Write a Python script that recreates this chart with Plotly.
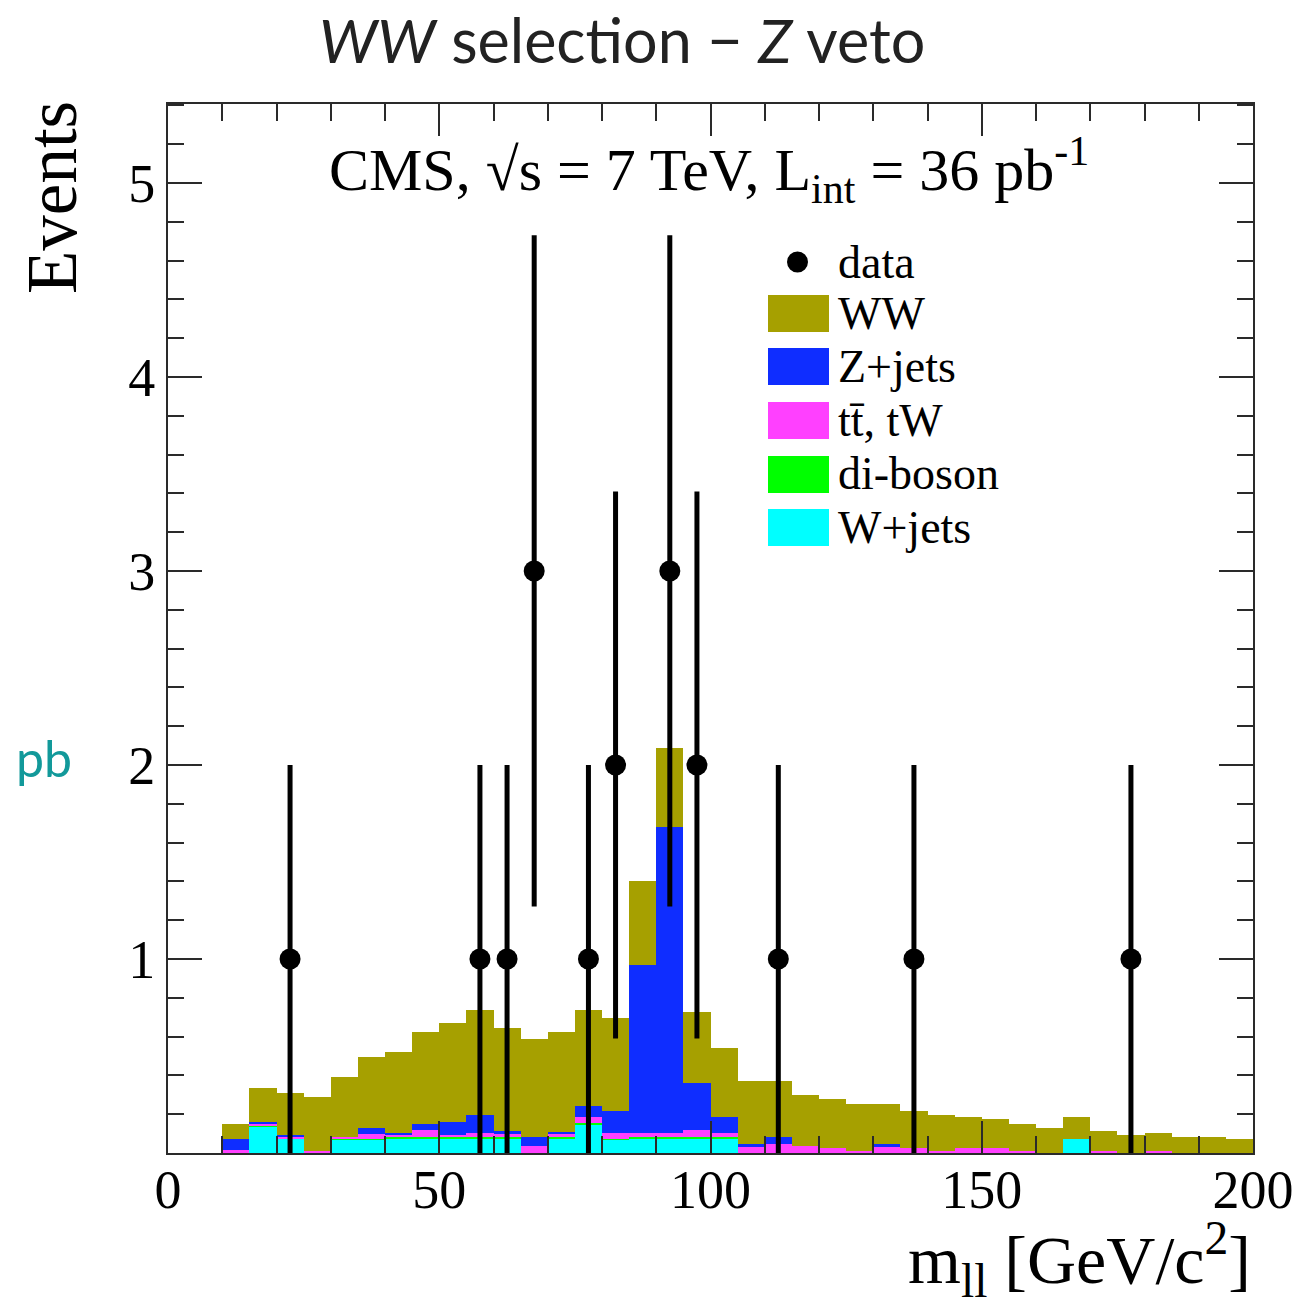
import plotly.graph_objects as go

# ---- binning: 5 GeV bins from 10 to 200 GeV/c^2 ----
bin_lo = list(range(10, 200, 5))
bin_centers = [b + 2.5 for b in bin_lo]

# ---- stacked background expectations (events per bin) ----
wjets = [0.000, 0.135, 0.074, 0.000, 0.070, 0.070, 0.077, 0.077, 0.077, 0.077,
         0.077, 0.000, 0.077, 0.142, 0.070, 0.077, 0.077, 0.077, 0.077, 0.000,
         0.000, 0.000, 0.000, 0.000, 0.000, 0.000, 0.000, 0.000, 0.000, 0.000,
         0.000, 0.071, 0.000, 0.000, 0.000, 0.000, 0.000, 0.000]
diboson = [0.000, 0.004, 0.003, 0.000, 0.003, 0.003, 0.003, 0.003, 0.003, 0.003,
           0.003, 0.000, 0.003, 0.011, 0.003, 0.003, 0.003, 0.003, 0.003, 0.000,
           0.000, 0.000, 0.000, 0.000, 0.000, 0.000, 0.000, 0.000, 0.000, 0.000,
           0.000, 0.000, 0.000, 0.000, 0.000, 0.000, 0.000, 0.000]
ttbar_tw = [0.015, 0.015, 0.008, 0.012, 0.011, 0.023, 0.016, 0.039, 0.013, 0.021,
            0.020, 0.036, 0.016, 0.031, 0.032, 0.025, 0.022, 0.039, 0.025, 0.036,
            0.046, 0.036, 0.024, 0.012, 0.036, 0.024, 0.012, 0.024, 0.024, 0.008,
            0.000, 0.000, 0.008, 0.000, 0.008, 0.000, 0.000, 0.000]
zjets = [0.056, 0.008, 0.008, 0.000, 0.000, 0.031, 0.009, 0.030, 0.068, 0.095,
         0.015, 0.045, 0.014, 0.058, 0.113, 0.864, 1.580, 0.240, 0.079, 0.010,
         0.035, 0.000, 0.000, 0.000, 0.010, 0.000, 0.000, 0.000, 0.000, 0.000,
         0.000, 0.000, 0.000, 0.000, 0.000, 0.000, 0.000, 0.000]
ww = [0.079, 0.172, 0.218, 0.275, 0.306, 0.366, 0.414, 0.473, 0.508, 0.541,
      0.531, 0.507, 0.512, 0.495, 0.476, 0.435, 0.404, 0.366, 0.356, 0.325,
      0.290, 0.263, 0.253, 0.241, 0.207, 0.194, 0.182, 0.160, 0.150, 0.141,
      0.127, 0.113, 0.107, 0.093, 0.097, 0.081, 0.081, 0.071]

# ---- observed data ----
data_x = [22.5, 57.5, 62.5, 67.5, 77.5, 82.5, 92.5, 97.5, 112.5, 137.5, 177.5]
data_n = [1, 1, 1, 3, 1, 2, 3, 2, 1, 1, 1]
data_err = [1.0, 1.0, 1.0, 1.73, 1.0, 1.41, 1.73, 1.41, 1.0, 1.0, 1.0]

x_ticks = [0, 50, 100, 150, 200]
y_ticks = [1, 2, 3, 4, 5]

# ---- styling ----
C_WW = "#a6a000"
C_Z = "#0f2dff"
C_TT = "#ff40ff"
C_VV = "#00ff00"
C_W = "#00ffff"
SERIF = "Liberation Serif, Times New Roman, serif"
SANS = "Lato, Open Sans, sans-serif"
AXIS_C = "#2a2a2a"

W, H = 1311, 1306
ML, MR, MT, MB = 168, 58, 104, 153
PW, PH = W - ML - MR, H - MT - MB


def px(xp):
    return (xp - ML) / PW


def py(yp):
    return (H - MB - yp) / PH


fig = go.Figure()

stack = [
    ("W+jets", wjets, C_W),
    ("di-boson", diboson, C_VV),
    ("tt\u0304, tW", ttbar_tw, C_TT),
    ("Z+jets", zjets, C_Z),
    ("WW", ww, C_WW),
]
for name, vals, col in stack:
    fig.add_trace(go.Bar(
        x=bin_centers, y=vals, width=5, name=name,
        marker=dict(color=col, line=dict(width=0)),
        showlegend=False, hoverinfo="skip",
    ))

fig.add_trace(go.Scatter(
    x=data_x, y=data_n, mode="markers", name="data",
    marker=dict(color="black", size=21, symbol="circle"),
    error_y=dict(type="data", array=data_err, visible=True,
                 color="black", thickness=5, width=0),
    showlegend=False, hoverinfo="skip",
))

axis_common = dict(
    showline=True, linecolor=AXIS_C, linewidth=2, mirror="allticks",
    ticks="inside", tickcolor=AXIS_C, tickwidth=2,
    showgrid=False, zeroline=False,
    tickfont=dict(family=SERIF, size=54, color="black"),
    layer="above traces",
)

fig.update_xaxes(
    range=[0, 200], tickvals=x_ticks, ticklen=32, ticklabelstandoff=-12,
    minor=dict(dtick=10, ticklen=17, ticks="inside", tickcolor=AXIS_C, tickwidth=2),
    **axis_common,
)
fig.update_yaxes(
    range=[0, 5.407], tickvals=y_ticks, ticklen=34,
    minor=dict(dtick=0.2, ticklen=16, ticks="inside", tickcolor=AXIS_C, tickwidth=2),
    **axis_common,
)

annotations = [
    dict(text="<i>WW</i> selection \u2212 <i>Z</i> veto", x=px(622), y=py(40),
         font=dict(family=SANS, size=61, color="#222222")),
    dict(text="CMS, \u221As = 7 TeV, L<sub>int</sub> = 36 pb<sup>-1</sup>",
         x=px(709), y=py(170), font=dict(family=SERIF, size=60, color="black")),
    dict(text="Events", x=px(52), y=py(198), textangle=-90,
         font=dict(family=SERIF, size=71, color="black")),
    dict(text="pb", x=px(44), y=py(758),
         font=dict(family=SANS, size=50, color="#12999a")),
    dict(text="m<sub>ll</sub> [GeV/c<sup>2</sup>]", x=1.0, y=py(1260),
         xanchor="right",
         font=dict(family=SERIF, size=68, color="black")),
]

# ---- legend box built from shapes and labels ----
legend_rows = [
    ("data", None, 262),
    ("WW", C_WW, 313),
    ("Z+jets", C_Z, 366),
    ("tt\u0304, tW", C_TT, 420),
    ("di-boson", C_VV, 474),
    ("W+jets", C_W, 527),
]
shapes = []
for label, col, yc in legend_rows:
    if col is None:
        shapes.append(dict(type="circle", xref="paper", yref="paper",
                           x0=px(787), x1=px(808), y0=py(yc + 10.5), y1=py(yc - 10.5),
                           fillcolor="black", line=dict(width=0)))
    else:
        shapes.append(dict(type="rect", xref="paper", yref="paper",
                           x0=px(768), x1=px(829), y0=py(yc + 19), y1=py(yc - 18),
                           fillcolor=col, line=dict(width=0)))
    annotations.append(dict(text=label, x=px(836), y=py(yc), xanchor="left",
                            font=dict(family=SERIF, size=46, color="black")))

for a in annotations:
    a.setdefault("xref", "paper")
    a.setdefault("yref", "paper")
    a.setdefault("xanchor", "center")
    a.setdefault("yanchor", "middle")
    a.setdefault("showarrow", False)

fig.update_layout(
    width=W, height=H,
    margin=dict(l=ML, r=MR, t=MT, b=MB, pad=0),
    paper_bgcolor="white", plot_bgcolor="white",
    barmode="stack", bargap=0,
    showlegend=False,
    annotations=annotations, shapes=shapes,
)

fig.write_html("out.html")
